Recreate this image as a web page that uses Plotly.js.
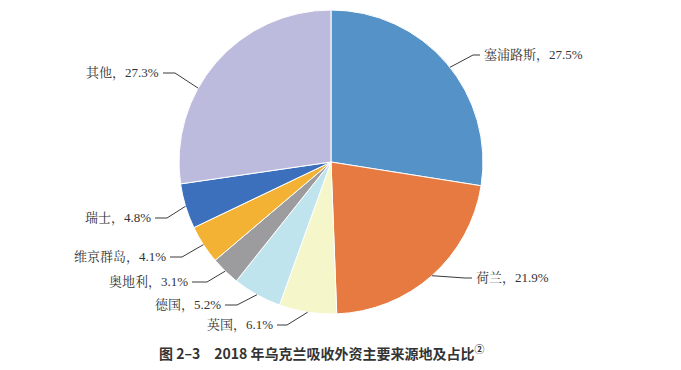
<!DOCTYPE html>
<html>
<head>
<meta charset="utf-8">
<script src="https://cdn.plot.ly/plotly-3.0.1.min.js"></script>
<style>html,body{margin:0;padding:0;background:#fff}#chart{width:681px;height:370px}</style>
</head>
<body>
<div id="chart"></div>
<script>
// Data
var categories = ["塞浦路斯", "荷兰", "英国", "德国", "奥地利", "维京群岛", "瑞士", "其他"];
var shares = [27.5, 21.9, 6.1, 5.2, 3.1, 4.1, 4.8, 27.3];
var colors = ["#5592c8", "#e67a40", "#f5f6c9", "#c0e4ed", "#9c9c9e", "#f3b233", "#3c70bd", "#bcbbdd"];

// Layout helpers (pixels)
var W = 681, H = 370;
var cx = 331, cy = 162, R = 152;
// where along each slice the leader line starts (fraction of slice)
var anchorFrac = [0.52, 0.5, 0.5, 0.5, 0.5, 0.5, 0.5, 0.38];
// elbow point and horizontal end of each leader line (pixels)
var elbows = [[473,55],[465,278],[287,325],[237,305],[207,282],[182,257],[167,218],[175,73]];
var ends   = [[480,55],[472,278],[277,325],[225,305],[192,282],[170,257],[155,218],[163,73]];

function px(x){return x/W;}
function py(y){return 1 - y/H;}

var total = shares.reduce(function(a,b){return a+b;},0);
var shapes = [], annotations = [];
var cum = 0;
for (var i = 0; i < shares.length; i++) {
  var f = (cum + shares[i]*anchorFrac[i]) / total;
  cum += shares[i];
  var ang = f * 2 * Math.PI;
  var sx = cx + R * Math.sin(ang), sy = cy - R * Math.cos(ang);
  var e = elbows[i], t = ends[i];
  shapes.push({type:'path', xref:'paper', yref:'paper',
    path:'M '+px(sx)+','+py(sy)+' L '+px(e[0])+','+py(e[1])+' L '+px(t[0])+','+py(t[1]),
    line:{color:'#3a3a3a', width:1}});
  var right = t[0] > cx;
  annotations.push({xref:'paper', yref:'paper', x:px(t[0] + (right?2:-2)), y:py(t[1]),
    xanchor: right ? 'left' : 'right', yanchor:'middle', showarrow:false,
    text: categories[i] + '，' + shares[i].toFixed(1) + '%',
    font:{family:'Liberation Serif, Noto Serif CJK SC, Noto Sans CJK SC, serif', size:13, color:'#333'}});
}
annotations.push({xref:'paper', yref:'paper', x:px(322), y:py(352), xanchor:'center', yanchor:'middle',
  showarrow:false, text:'图 2–3　2018 年乌克兰吸收外资主要来源地及占比<sup>②</sup>',
  font:{family:'Noto Sans CJK SC, Liberation Sans, sans-serif', size:14, color:'#333', weight:'bold'}});

var trace = {
  type:'pie', labels:categories, values:shares, sort:false, direction:'clockwise', rotation:0,
  marker:{colors:colors, line:{color:'#ffffff', width:1}},
  textinfo:'none', hoverinfo:'label+percent', showlegend:false,
  domain:{x:[px(cx-R), px(cx+R)], y:[py(cy+R), py(cy-R)]}
};

Plotly.newPlot('chart', [trace], {
  width:W, height:H, margin:{l:0,r:0,t:0,b:0}, paper_bgcolor:'#fff',
  showlegend:false, shapes:shapes, annotations:annotations
}, {displayModeBar:false, staticPlot:true});
</script>
</body>
</html>
